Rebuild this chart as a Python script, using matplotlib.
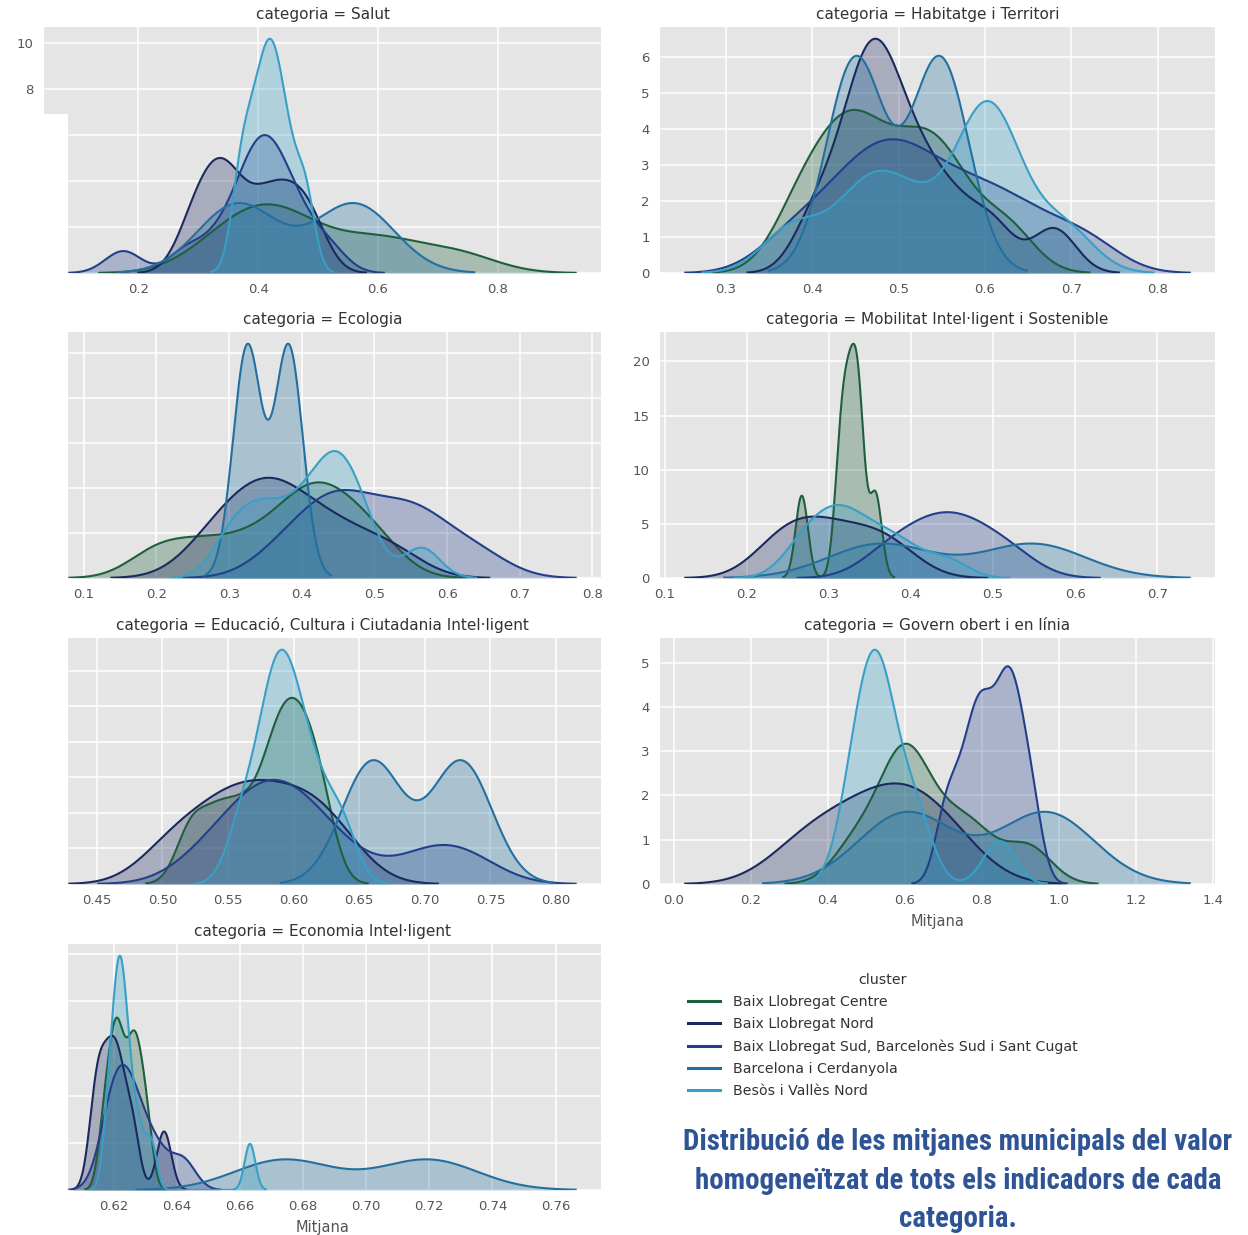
import numpy as np
import matplotlib
matplotlib.use("Agg")
import matplotlib.pyplot as plt
from matplotlib.patches import Rectangle
from matplotlib.lines import Line2D
from matplotlib.ticker import MultipleLocator
from matplotlib import font_manager as fm

# ---------------- data ----------------
clusters = ["Baix Llobregat Centre", "Baix Llobregat Nord",
            "Baix Llobregat Sud, Barcelonès Sud i Sant Cugat",
            "Barcelona i Cerdanyola", "Besòs i Vallès Nord"]

categories = ["Salut", "Habitatge i Territori", "Ecologia",
              "Mobilitat Intel·ligent i Sostenible",
              "Educació, Cultura i Ciutadania Intel·ligent",
              "Govern obert i en línia", "Economia Intel·ligent"]

# municipal means per cluster (order as in `clusters`) and KDE bandwidths
# (None -> Scott rule as used by statsmodels)
salut_values = [
    [0.33, 0.38, 0.41, 0.44, 0.48, 0.57, 0.63, 0.735],
    [0.29, 0.32, 0.34, 0.36, 0.40, 0.43, 0.46, 0.49],
    [0.175, 0.28, 0.33, 0.36, 0.38, 0.39, 0.40, 0.41, 0.42, 0.43, 0.44,
     0.46, 0.48, 0.52],
    [0.366, 0.561],
    [0.37, 0.39, 0.408, 0.42, 0.432, 0.45, 0.478],
]
salut_bw = [0.065, 0.03, 0.03, None, 0.0162]

habitatge_values = [
    [0.38, 0.41, 0.435, 0.45, 0.47, 0.50, 0.525, 0.545, 0.57, 0.625],
    [0.40, 0.43, 0.45, 0.46, 0.47, 0.475, 0.49, 0.50, 0.52, 0.54, 0.57,
     0.61, 0.68],
    [0.373, 0.42, 0.45, 0.47, 0.49, 0.51, 0.53, 0.56, 0.59, 0.62, 0.66, 0.717],
    [0.45, 0.548],
    [0.378, 0.45, 0.48, 0.52, 0.58, 0.60, 0.61, 0.62, 0.69],
]
habitatge_bw = [0.032, 0.025, 0.04, None, 0.035]

ecologia_values = [
    [0.20, 0.26, 0.32, 0.37, 0.40, 0.42, 0.44, 0.47, 0.506],
    [0.273, 0.31, 0.34, 0.36, 0.38, 0.42, 0.46, 0.523],
    [0.372, 0.42, 0.44, 0.46, 0.49, 0.53, 0.555, 0.58, 0.642],
    [0.325, 0.382],
    [0.296, 0.325, 0.345, 0.37, 0.395, 0.415, 0.432, 0.445, 0.455, 0.47,
     0.49, 0.565],
]
ecologia_bw = [0.04, 0.045, 0.045, None, 0.025]

mobilitat_values = [
    [0.267, 0.313, 0.320, 0.327, 0.334, 0.338, 0.357],
    [0.23, 0.25, 0.27, 0.29, 0.31, 0.34, 0.36, 0.388],
    [0.367, 0.40, 0.425, 0.445, 0.465, 0.49, 0.525],
    [0.363, 0.549],
    [0.26, 0.28, 0.295, 0.31, 0.32, 0.335, 0.355, 0.375, 0.40, 0.445],
]
mobilitat_bw = [0.0075, 0.035, 0.035, None, 0.025]

educacio_values = [
    [0.522, 0.542, 0.56, 0.578, 0.588, 0.596, 0.603, 0.612, 0.622],
    [0.504, 0.53, 0.55, 0.565, 0.58, 0.60, 0.615, 0.635],
    [0.535, 0.56, 0.575, 0.585, 0.595, 0.61, 0.635, 0.70, 0.731],
    [0.66, 0.728],
    [0.561, 0.578, 0.585, 0.59, 0.597, 0.605, 0.617, 0.636],
]
educacio_bw = [0.0115, 0.025, 0.028, None, 0.012]

govern_values = [
    [0.47, 0.56, 0.59, 0.61, 0.64, 0.72, 0.79, 0.92],
    [0.33, 0.43, 0.52, 0.58, 0.64, 0.72],
    [0.70, 0.73, 0.76, 0.78, 0.795, 0.81, 0.83, 0.85, 0.865, 0.875, 0.89,
     0.91, 0.935],
    [0.604, 0.967],
    [0.455, 0.48, 0.50, 0.52, 0.53, 0.54, 0.56, 0.60, 0.64, 0.845],
]
govern_bw = [0.06, 0.1, 0.027, None, 0.041]

economia_values = [
    [0.6171, 0.6195, 0.621, 0.6222, 0.6248, 0.6265, 0.628, 0.6305],
    [0.614, 0.616, 0.6185, 0.6205, 0.6225, 0.626, 0.636],
    [0.618, 0.620, 0.622, 0.624, 0.626, 0.629, 0.634, 0.642],
    [0.674, 0.7196],
    [0.618, 0.6195, 0.6205, 0.6215, 0.622, 0.6225, 0.6235, 0.6245, 0.626,
     0.6285, 0.632, 0.6632],
]
economia_bw = [0.002, 0.0023, 0.004, None, 0.0017]

x_tick_steps = [0.2, 0.1, 0.1, 0.1, 0.05, 0.2, 0.02]
y_tick_steps = [2, 1, 2, 5, 2.5, 1, 20]

# ---------------- style ----------------
colors = ["#1f5f3e", "#1b2a5e", "#22408a", "#2370a0", "#38a0c6"]
W, H = 1248, 1235
DPI = 100

def pick_font(cands):
    for c in cands:
        try:
            fm.findfont(fm.FontProperties(family=c), fallback_to_default=False)
            return c
        except Exception:
            continue
    return "DejaVu Sans"

title_font = pick_font(["Liberation Sans Narrow", "Roboto Condensed",
                        "Liberation Sans", "DejaVu Sans"])

plt.style.use("ggplot")
plt.rcParams["font.family"] = ["DejaVu Sans"]
plt.rcParams["axes.facecolor"] = "#E5E5E5"
plt.rcParams["grid.color"] = "white"
plt.rcParams["grid.linewidth"] = 1.1

def scott_bw(s):
    s = np.asarray(s, float)
    iqr = np.subtract(*np.percentile(s, [75, 25]))
    a = min(np.std(s, ddof=1), iqr / 1.349)
    return 1.059 * a * len(s) ** (-0.2)

def kde(samples, bw):
    s = np.asarray(samples, float)
    if bw is None:
        bw = scott_bw(s)
    grid = np.linspace(s.min() - 3 * bw, s.max() + 3 * bw, 300)
    z = (grid[:, None] - s[None, :]) / bw
    dens = np.exp(-0.5 * z ** 2).sum(axis=1) / (len(s) * bw * np.sqrt(2 * np.pi))
    return grid, dens

panels = [
    (salut_values, salut_bw), (habitatge_values, habitatge_bw),
    (ecologia_values, ecologia_bw), (mobilitat_values, mobilitat_bw),
    (educacio_values, educacio_bw), (govern_values, govern_bw),
    (economia_values, economia_bw),
]

fig = plt.figure(figsize=(W / DPI, H / DPI), dpi=DPI, facecolor="white")

col_left = [44, 660]
col_w = [557, 555]
row_top = [27, 332, 638, 944]
ax_h = 246

for i, (vals, bws) in enumerate(panels):
    r, c = divmod(i, 2)
    left = col_left[c] / W
    bottom = 1 - (row_top[r] + ax_h) / H
    ax = fig.add_axes([left, bottom, col_w[c] / W, ax_h / H])
    for k in range(len(clusters)):
        x, y = kde(vals[k], bws[k])
        ax.plot(x, y, color=colors[k], lw=1.5, zorder=3)
        ax.fill_between(x, 0, y, color=colors[k], alpha=0.3, lw=0, zorder=2)
    ax.set_ylim(0, None)
    ax.xaxis.set_major_locator(MultipleLocator(x_tick_steps[i]))
    ax.yaxis.set_major_locator(MultipleLocator(y_tick_steps[i]))
    ax.tick_params(length=0, pad=7.5, labelsize=9.5, colors="#555555")
    ax.grid(True, color="white", lw=1.1)
    ax.set_axisbelow(True)
    for sp in ax.spines.values():
        sp.set_visible(False)
    ax.set_title("categoria = " + categories[i], fontsize=11, color="#333333",
                 pad=6)
    if i in (5, 6):
        ax.set_xlabel("Mitjana", fontsize=10.5, color="#555555", labelpad=5)

# white patch that hides the left-hand density labels
fig.add_artist(Rectangle((0, 0), 68 / W, 1 - 114 / H, transform=fig.transFigure,
                         facecolor="white", edgecolor="none", zorder=10))

handles = [Line2D([], [], color=col, lw=2.2) for col in colors]
leg = fig.legend(handles, clusters, loc="upper left",
                 bbox_to_anchor=(682 / W, 1 - 967 / H), frameon=False,
                 title="cluster", fontsize=10.2, title_fontsize=10.2,
                 handlelength=2.3, handletextpad=0.9, labelspacing=0.58,
                 borderaxespad=0, borderpad=0.4, labelcolor="#333333")
leg.get_title().set_color("#333333")

title_lines = ["Distribució de les mitjanes municipals del valor",
               "homogeneïtzat de tots els indicadors de cada",
               "categoria."]
for line, yc in zip(title_lines, [1142, 1181, 1219]):
    fig.text(958 / W, 1 - yc / H, line, ha="center", va="center",
             fontsize=20.9, fontweight="bold", color="#2F5496",
             family=[title_font, "DejaVu Sans"])

fig.savefig("out.png", dpi=DPI, facecolor="white")
